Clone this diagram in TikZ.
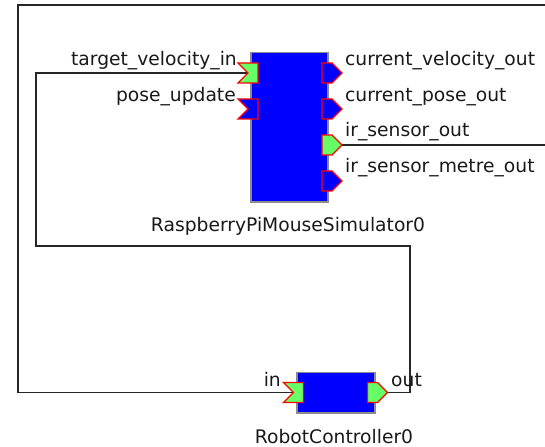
\documentclass[tikz,border=0pt]{standalone}
\usepackage{fontspec}
\setmainfont{DejaVu Sans}
\usetikzlibrary{backgrounds}

\tikzset{
  inport/.pic={\filldraw[draw=red, line width=1.3bp, fill=#1, line join=miter]
    (-10,-10) -- (10,-10) -- (10,10) -- (-10,10) -- (0,0) -- cycle;},
  outport/.pic={\filldraw[draw=red, line width=1.3bp, fill=#1, line join=miter]
    (-10,-10) -- (0,-10) -- (10,0) -- (0,10) -- (-10,10) -- cycle;}
}

\begin{document}
\begin{tikzpicture}[x=1bp,y=-1bp,
  comp/.style={draw=black!45, fill=blue, line width=1.2bp, inner sep=0pt},
  lbl/.style={inner sep=0pt, text=black!90, font=\fontsize{18.7bp}{22bp}\selectfont},
  wire/.style={draw=black!85, line width=1.4bp}]
\useasboundingbox (0,0) rectangle (545,447);
% components
\node[comp, minimum width=77bp, minimum height=149.5bp] (sim) at (289.5,127.25) {};
\node[comp, minimum width=78bp, minimum height=40.5bp] (rc) at (336,392.75) {};
% ports
\coordinate (tvin) at (248,73);
\coordinate (posein) at (248,109);
\coordinate (velout) at (332,73);
\coordinate (poseout) at (332,109);
\coordinate (irout) at (332,145);
\coordinate (irmout) at (332,181);
\coordinate (rcin) at (293.5,392.5);
\coordinate (rcout) at (377.5,392.5);
\pic at (tvin) {inport=green!60};
\pic at (posein) {inport=blue};
\pic at (velout) {outport=blue};
\pic at (poseout) {outport=blue};
\pic at (irout) {outport=green!60};
\pic at (irmout) {outport=blue};
\pic at (rcin) {inport=green!60};
\pic at (rcout) {outport=green!60};
% labels
\node[lbl, anchor=base east] (tvinlbl) at (237,66) {target\_velocity\_in};
\node[lbl, anchor=base east] (poseinlbl) at (236,102) {pose\_update};
\node[lbl, anchor=base west] (veloutlbl) at (345,66) {current\_velocity\_out};
\node[lbl, anchor=base west] (poseoutlbl) at (345,102) {current\_pose\_out};
\node[lbl, anchor=base west] (iroutlbl) at (345,137) {ir\_sensor\_out};
\node[lbl, anchor=base west] (irmoutlbl) at (345,173) {ir\_sensor\_metre\_out};
\node[lbl, anchor=base east] (rcinlbl) at (281,386) {in};
\node[lbl, anchor=base west] (rcoutlbl) at (391,386) {out};
\node[lbl, anchor=base] (simname) at (288,232) {RaspberryPiMouseSimulator0};
\node[lbl, anchor=base] (rcname) at (334,443) {RobotController0};
% connectors
\coordinate (wrapNE) at (570,5);
\coordinate (wrapNW) at (18,5);
\coordinate (loopSE) at (410,246);
\coordinate (loopSW) at (36,246);
\begin{scope}[on background layer]
\draw[wire] (irout) -| (wrapNE) -- (wrapNW) |- (rcin);
\draw[wire] (rcout) -| (loopSE) -- (loopSW) |- (tvin);
\end{scope}
\end{tikzpicture}
\end{document}
